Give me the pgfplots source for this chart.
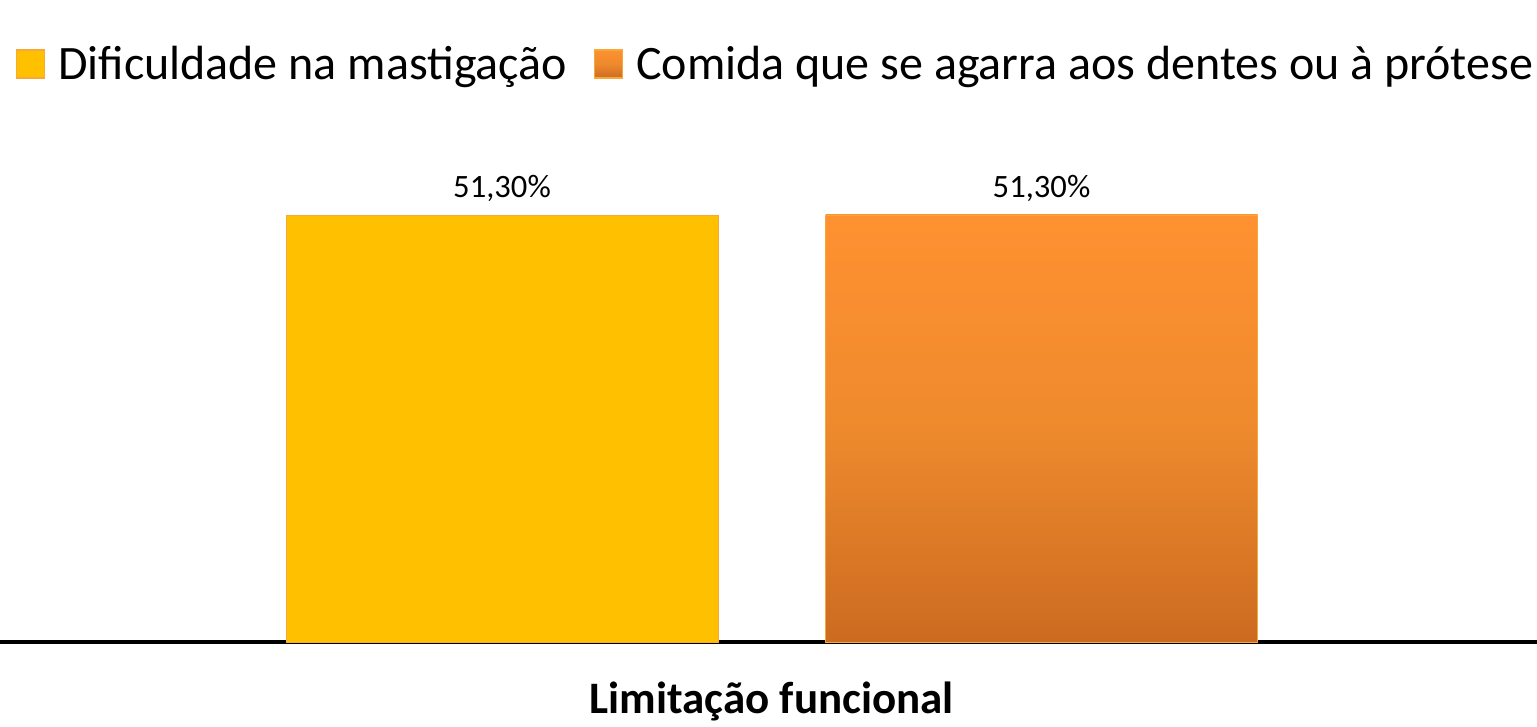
\documentclass[border=0pt]{standalone}
\usepackage{fontspec}
\setmainfont{Carlito}
\usepackage{pgfplots}
\pgfplotsset{compat=1.18}
\definecolor{barY}{HTML}{FFC000}
\definecolor{barYedge}{HTML}{F6A93B}
\definecolor{barOtop}{HTML}{FF9130}
\definecolor{barOmid}{HTML}{EE8A2D}
\definecolor{barObot}{HTML}{CC6B21}
\begin{document}
\begin{tikzpicture}
\useasboundingbox (0pt,0pt) rectangle (768.5pt,363.5pt);
\begin{axis}[
 at={(0pt,42.5pt)}, anchor=south west,
 scale only axis, width=768.5pt, height=256pt,
 xmin=0, xmax=1537, ymin=0, ymax=61.5,
 axis x line*=bottom, axis y line=none,
 x axis line style={line width=2pt,-},
 xtick={771.75}, xticklabels={\textbf{Limitação funcional}},
 xtick style={draw=none},
 xticklabel style={font=\fontsize{22.5}{27}\selectfont, yshift=-12pt},
 ytick=\empty,
 ybar, bar width=216pt, bar shift=0pt,
 /pgf/number format/assume math mode=true,
 nodes near coords={\pgfmathprintnumber[fixed,fixed zerofill,precision=2,use comma,assume math mode=true]{\pgfplotspointmeta}\%},
 every node near coord/.append style={font=\fontsize{16.3}{20}\selectfont, black, yshift=3pt},
 legend columns=2,
 legend style={at={(0.5052,1.129)}, anchor=center, draw=none, font=\fontsize{24}{29}\selectfont,
   /tikz/every even column/.append style={column sep=11.5pt},
   /tikz/every odd column/.append style={column sep=4.5pt}},
 legend image code/.code={\draw[#1, line width=0.6pt] (0pt,-7pt) rectangle (14pt,7pt);},
 clip=false,
]
\addplot[fill=barY, draw=barYedge] coordinates {(502,51.3)};
\addplot[top color=barOtop, bottom color=barObot, middle color=barOmid, draw=barYedge] coordinates {(1041.5,51.3)};
\legend{Dificuldade na mastigação, Comida que se agarra aos dentes ou à prótese}
\end{axis}
\end{tikzpicture}
\end{document}
